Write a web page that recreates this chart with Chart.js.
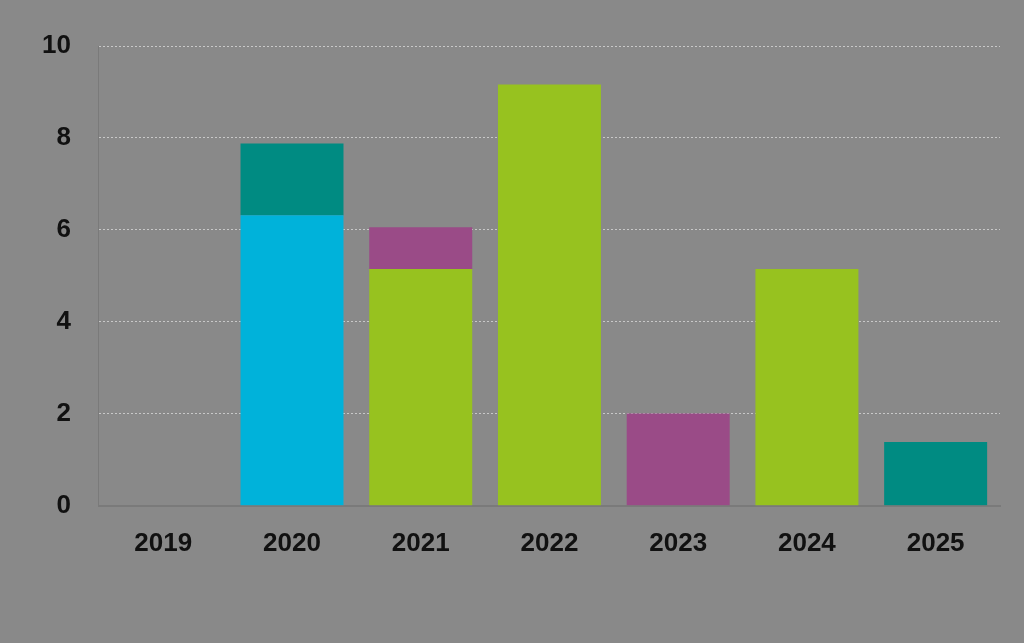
<!DOCTYPE html>
<html><head><meta charset="utf-8">
<script src="https://cdn.jsdelivr.net/npm/chart.js@4"></script>
<style>html,body{margin:0;padding:0;background:#898989;}#w{width:1024px;height:643px;}</style>
</head><body><div id="w"><canvas id="c"></canvas></div>
<script>
const categories = ["2019","2020","2021","2022","2023","2024","2025"];
const cyanValues   = [0, 6.32, 0, 0, 0, 0, 0];
const greenValues  = [0, 0, 5.15, 9.16, 0, 5.15, 0];
const purpleValues = [0, 0, 0.91, 0, 2.01, 0, 0];
const tealValues   = [0, 1.56, 0, 0, 0, 0, 1.39];
const yTicks = [0, 2, 4, 6, 8, 10];

const ds = (data, color) => ({data, backgroundColor: color, borderWidth: 0, barPercentage: 0.8, categoryPercentage: 1});
new Chart(document.getElementById('c'), {
  type: 'bar',
  data: { labels: categories, datasets: [
    ds(cyanValues, '#00b2da'), ds(greenValues, '#97c21f'),
    ds(purpleValues, '#9a4b87'), ds(tealValues, '#008b82') ] },
  options: {
    responsive: true, maintainAspectRatio: false, animation: false,
    layout: { padding: { top: 46, right: 24, bottom: 70, left: 14 } },
    plugins: { legend: { display: false }, tooltip: { enabled: false } },
    scales: {
      x: { stacked: true, grid: { display: false },
           border: { color: '#7a7a7a', width: 2 },
           ticks: { color: '#111', font: { family: 'Liberation Sans', size: 26, weight: 'bold' }, padding: 14 } },
      y: { stacked: true, min: 0, max: 10,
           afterBuildTicks: a => { a.ticks = yTicks.map(v => ({value: v})); },
           grid: { color: '#c8c8c8', lineWidth: 1, drawTicks: false },
           border: { dash: [2, 2], color: '#7a7a7a', width: 1 },
           ticks: { color: '#111', font: { family: 'Liberation Sans', size: 26, weight: 'bold' }, padding: 28 } }
    }
  }
});
</script></body></html>
